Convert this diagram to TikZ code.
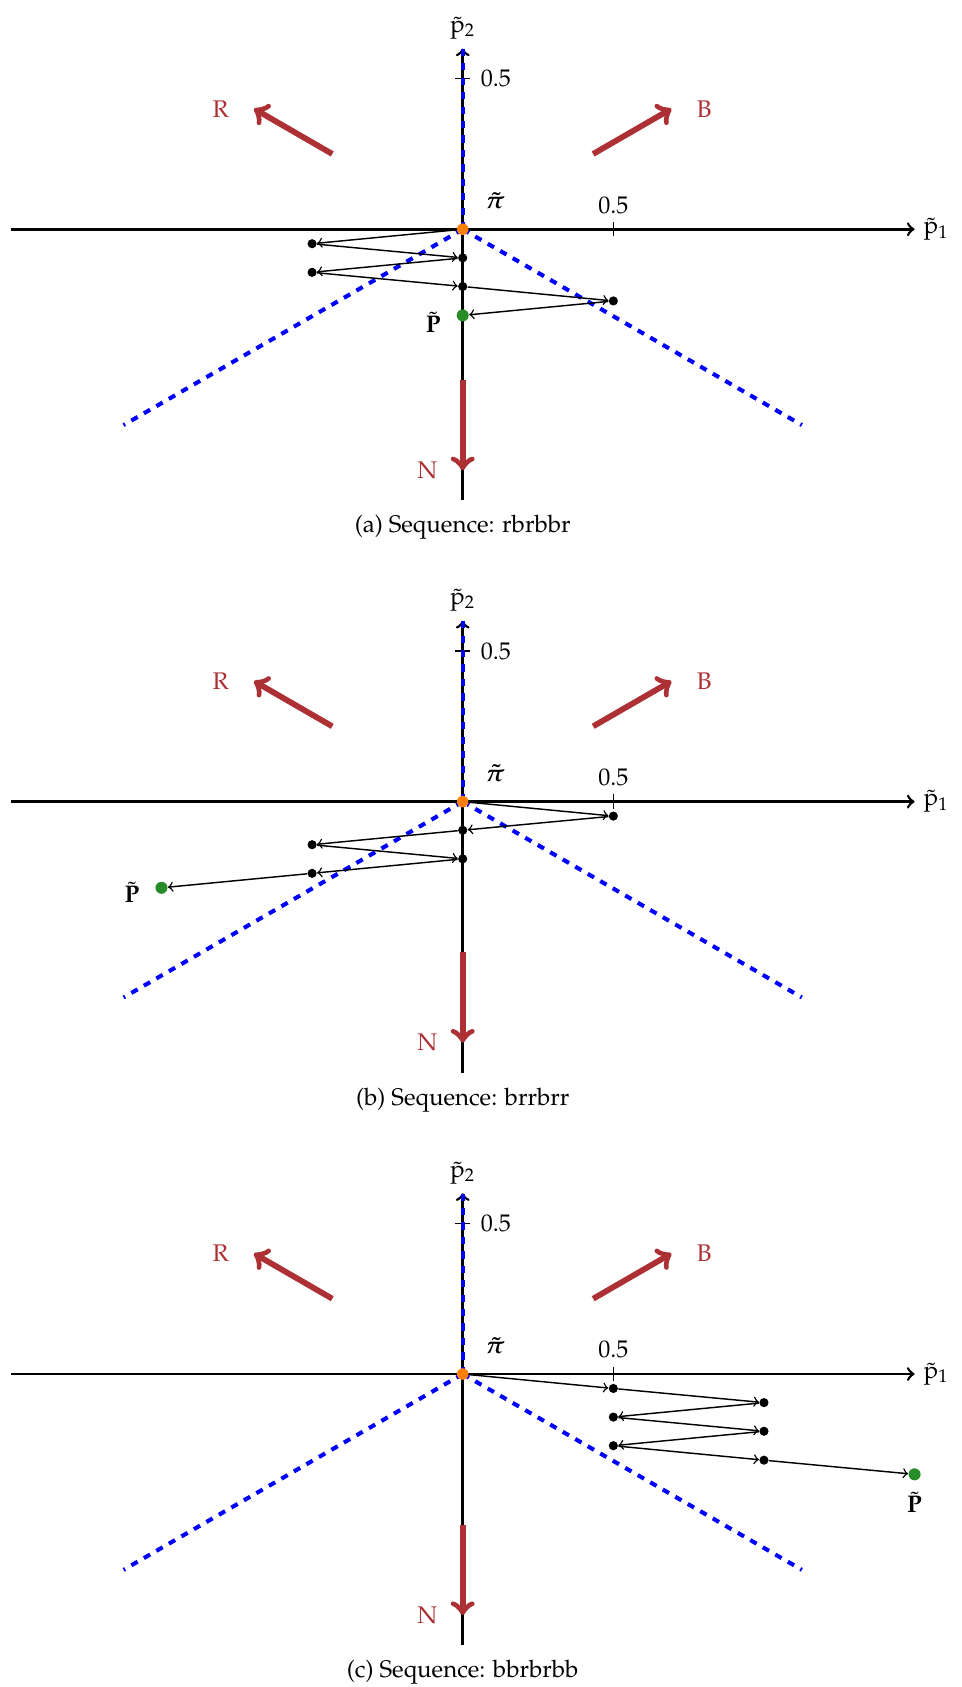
\documentclass[tikz,border=0pt]{standalone}
\usepackage[T1]{fontenc}
\usepackage{mathpazo}
\renewcommand{\rmdefault}{ppl}
\usepackage{bm}
\usepackage{xcolor}
\usepackage{tikz}
\usetikzlibrary{positioning}

\definecolor{forcered}{RGB}{172,48,52}
\definecolor{endgreen}{RGB}{40,140,40}

\begin{document}
\begin{tikzpicture}[x=4.4cm, y=4.4cm,
		axisline/.style={line width=1.1pt, ->},
		tickmark/.style={semithick},
		region/.style={blue, dashed, line width=1.7pt},
		force/.style={forcered, line width=2.4pt, ->},
		forcelab/.style={text=forcered},
		stepdot/.style={circle, fill=black, inner sep=0pt, minimum size=3.8pt},
		startdot/.style={circle, fill=orange, inner sep=0pt, minimum size=4.8pt},
		enddot/.style={circle, fill=endgreen, inner sep=0pt, minimum size=5pt},
		move/.style={->, semithick}]

		\useasboundingbox (-1.536,0.761) rectangle (1.657,-4.839);

		% (a)
		\coordinate (a-o) at (0,0);
		\coordinate (a-xl) at (-1.5,0);
		\coordinate (a-xr) at (1.5,0);
		\coordinate (a-yb) at (0,-0.9);
		\coordinate (a-yt) at (0,0.6);
		\coordinate (a-tx) at (0.5,0);
		\coordinate (a-ty) at (0,0.5);
		\coordinate (a-bl) at (-150:1.3);
		\coordinate (a-br) at (-30:1.3);
		\coordinate (a-r0) at (150:0.5);
		\coordinate (a-r1) at (150:0.8);
		\coordinate (a-b0) at (30:0.5);
		\coordinate (a-b1) at (30:0.8);
		\coordinate (a-n0) at (-90:0.5);
		\coordinate (a-n1) at (-90:0.8);

		\draw[axisline] (a-xl) -- (a-xr) node[right] (a-p1) {$\tilde{\mathrm{p}}_1$};
		\draw[axisline] (a-yb) -- (a-yt) node[above] (a-p2) {$\tilde{\mathrm{p}}_2$};
		\draw[tickmark] ([yshift=3pt]a-tx) -- ([yshift=-3pt]a-tx);
		\draw[tickmark] ([xshift=-3pt]a-ty) -- ([xshift=3pt]a-ty);
		\node (a-txl) [above=3pt of a-tx] {0.5};
		\node (a-tyl) [right=4pt of a-ty] {0.5};

		\draw[region] (a-o) -- (a-yt);
		\draw[region] (a-o) -- (a-bl);
		\draw[region] (a-o) -- (a-br);

		\draw[force] (a-r0) -- (a-r1) node[forcelab, left=6pt] (a-R) {R};
		\draw[force] (a-b0) -- (a-b1) node[forcelab, right=6pt] (a-B) {B};
		\draw[force] (a-n0) -- (a-n1) node[forcelab, left=6pt] (a-N) {N};

		\node[startdot] (a0) at (0,0) {};
		\node[stepdot] (a1) at (-0.5,-0.048) {};
		\node[stepdot] (a2) at (0,-0.095) {};
		\node[stepdot] (a3) at (-0.5,-0.143) {};
		\node[stepdot] (a4) at (0,-0.190) {};
		\node[stepdot] (a5) at (0.5,-0.238) {};
		\node[enddot] (a6) at (0,-0.286) {};
		\node (a-pi) [above right=3pt and 4pt of a0] {$\bm{\tilde{\pi}}$};
		\node (a-P) [left=3pt of a6, yshift=-3pt] {$\tilde{\mathbf{P}}$};

		\path[move]
		(a0) edge (a1)
		(a1) edge (a2)
		(a2) edge (a3)
		(a3) edge (a4)
		(a4) edge (a5)
		(a5) edge (a6);

		\node (a-cap) at (0,-0.99) {(a) Sequence: rbrbbr};

		% (b)
		\begin{scope}[shift={(0,-1.9)}]
		\coordinate (b-o) at (0,0);
		\coordinate (b-xl) at (-1.5,0);
		\coordinate (b-xr) at (1.5,0);
		\coordinate (b-yb) at (0,-0.9);
		\coordinate (b-yt) at (0,0.6);
		\coordinate (b-tx) at (0.5,0);
		\coordinate (b-ty) at (0,0.5);
		\coordinate (b-bl) at (-150:1.3);
		\coordinate (b-br) at (-30:1.3);
		\coordinate (b-r0) at (150:0.5);
		\coordinate (b-r1) at (150:0.8);
		\coordinate (b-b0) at (30:0.5);
		\coordinate (b-b1) at (30:0.8);
		\coordinate (b-n0) at (-90:0.5);
		\coordinate (b-n1) at (-90:0.8);

		\draw[axisline] (b-xl) -- (b-xr) node[right] (b-p1) {$\tilde{\mathrm{p}}_1$};
		\draw[axisline] (b-yb) -- (b-yt) node[above] (b-p2) {$\tilde{\mathrm{p}}_2$};
		\draw[tickmark] ([yshift=3pt]b-tx) -- ([yshift=-3pt]b-tx);
		\draw[tickmark] ([xshift=-3pt]b-ty) -- ([xshift=3pt]b-ty);
		\node (b-txl) [above=3pt of b-tx] {0.5};
		\node (b-tyl) [right=4pt of b-ty] {0.5};

		\draw[region] (b-o) -- (b-yt);
		\draw[region] (b-o) -- (b-bl);
		\draw[region] (b-o) -- (b-br);

		\draw[force] (b-r0) -- (b-r1) node[forcelab, left=6pt] (b-R) {R};
		\draw[force] (b-b0) -- (b-b1) node[forcelab, right=6pt] (b-B) {B};
		\draw[force] (b-n0) -- (b-n1) node[forcelab, left=6pt] (b-N) {N};

		\node[startdot] (b0) at (0,0) {};
		\node[stepdot] (b1) at (0.5,-0.048) {};
		\node[stepdot] (b2) at (0,-0.095) {};
		\node[stepdot] (b3) at (-0.5,-0.143) {};
		\node[stepdot] (b4) at (0,-0.190) {};
		\node[stepdot] (b5) at (-0.5,-0.238) {};
		\node[enddot] (b6) at (-1,-0.286) {};
		\node (b-pi) [above right=3pt and 4pt of b0] {$\bm{\tilde{\pi}}$};
		\node (b-P) [left=3pt of b6, yshift=-2pt] {$\tilde{\mathbf{P}}$};

		\path[move]
		(b0) edge (b1)
		(b1) edge (b2)
		(b2) edge (b3)
		(b3) edge (b4)
		(b4) edge (b5)
		(b5) edge (b6);

		\node (b-cap) at (0,-0.99) {(b) Sequence: brrbrr};
		\end{scope}

		% (c)
		\begin{scope}[shift={(0,-3.8)}]
		\coordinate (c-o) at (0,0);
		\coordinate (c-xl) at (-1.5,0);
		\coordinate (c-xr) at (1.5,0);
		\coordinate (c-yb) at (0,-0.9);
		\coordinate (c-yt) at (0,0.6);
		\coordinate (c-tx) at (0.5,0);
		\coordinate (c-ty) at (0,0.5);
		\coordinate (c-bl) at (-150:1.3);
		\coordinate (c-br) at (-30:1.3);
		\coordinate (c-r0) at (150:0.5);
		\coordinate (c-r1) at (150:0.8);
		\coordinate (c-b0) at (30:0.5);
		\coordinate (c-b1) at (30:0.8);
		\coordinate (c-n0) at (-90:0.5);
		\coordinate (c-n1) at (-90:0.8);

		\draw[axisline] (c-xl) -- (c-xr) node[right] (c-p1) {$\tilde{\mathrm{p}}_1$};
		\draw[axisline] (c-yb) -- (c-yt) node[above] (c-p2) {$\tilde{\mathrm{p}}_2$};
		\draw[tickmark] ([yshift=3pt]c-tx) -- ([yshift=-3pt]c-tx);
		\draw[tickmark] ([xshift=-3pt]c-ty) -- ([xshift=3pt]c-ty);
		\node (c-txl) [above=3pt of c-tx] {0.5};
		\node (c-tyl) [right=4pt of c-ty] {0.5};

		\draw[region] (c-o) -- (c-yt);
		\draw[region] (c-o) -- (c-bl);
		\draw[region] (c-o) -- (c-br);

		\draw[force] (c-r0) -- (c-r1) node[forcelab, left=6pt] (c-R) {R};
		\draw[force] (c-b0) -- (c-b1) node[forcelab, right=6pt] (c-B) {B};
		\draw[force] (c-n0) -- (c-n1) node[forcelab, left=6pt] (c-N) {N};

		\node[startdot] (c0) at (0,0) {};
		\node[stepdot] (c1) at (0.5,-0.048) {};
		\node[stepdot] (c2) at (1,-0.095) {};
		\node[stepdot] (c3) at (0.5,-0.143) {};
		\node[stepdot] (c4) at (1,-0.190) {};
		\node[stepdot] (c5) at (0.5,-0.238) {};
		\node[stepdot] (c6) at (1,-0.286) {};
		\node[enddot] (c7) at (1.5,-0.333) {};
		\node (c-pi) [above right=3pt and 4pt of c0] {$\bm{\tilde{\pi}}$};
		\node (c-P) [below=1pt of c7] {$\tilde{\mathbf{P}}$};

		\path[move]
		(c0) edge (c1)
		(c1) edge (c2)
		(c2) edge (c3)
		(c3) edge (c4)
		(c4) edge (c5)
		(c5) edge (c6)
		(c6) edge (c7);

		\node (c-cap) at (0,-0.99) {(c) Sequence: bbrbrbb};
		\end{scope}

\end{tikzpicture}
\end{document}
